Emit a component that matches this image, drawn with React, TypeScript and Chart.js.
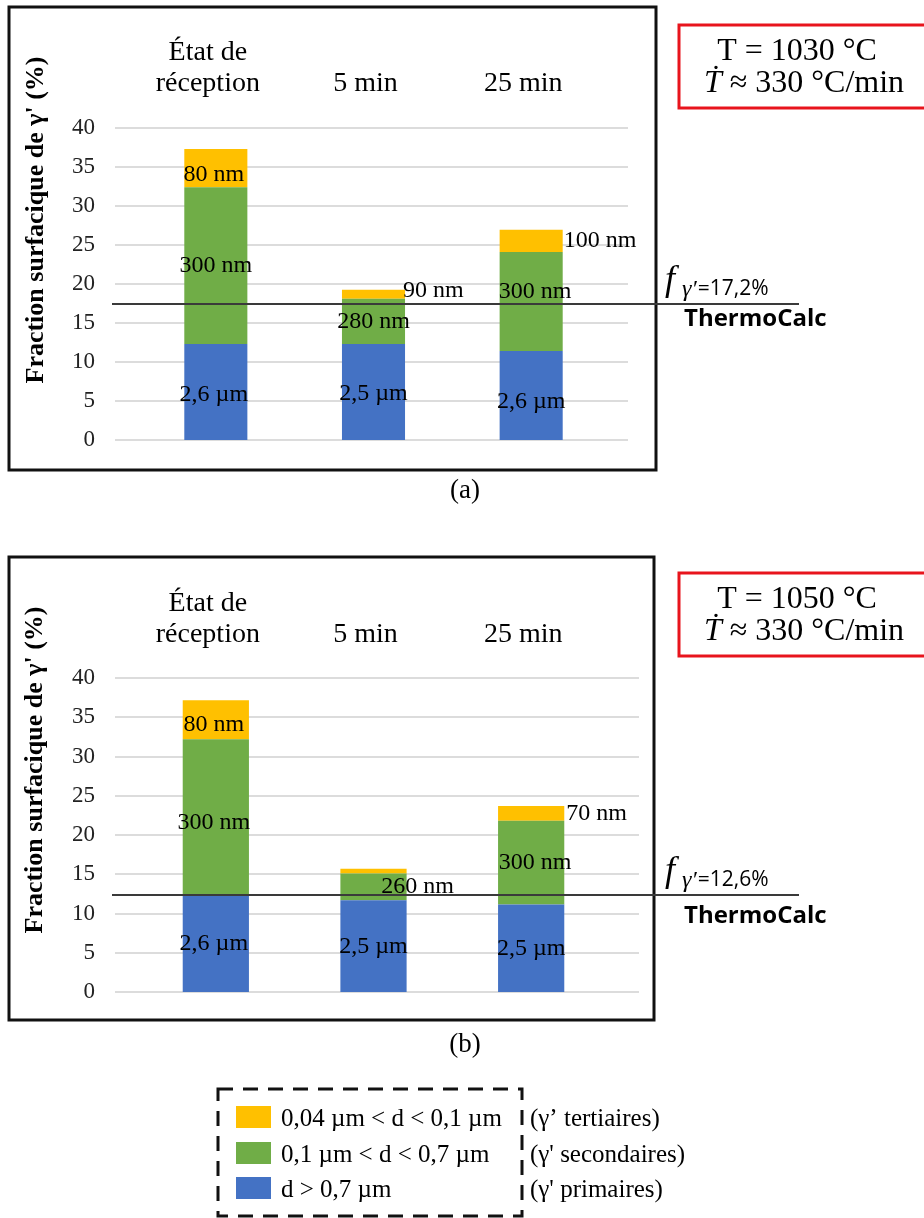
import React, { useEffect, useRef } from "react";
import { Chart, registerables } from "chart.js";

Chart.register(...registerables);

// ---------- data ----------
const categories: (string | string[])[] = [["État de", "réception"], "5 min", "25 min"];
const yMin = 0;
const yMax = 40;
const yStep = 5;

// panel (a) : T = 1030 °C
const primairesA = [12.3, 12.3, 11.4];
const secondairesA = [20.1, 5.8, 12.7];
const tertiairesA = [4.9, 1.15, 2.85];
const labelsPrimA = ["2,6 µm", "2,5 µm", "2,6 µm"];
const labelsSecA = ["300 nm", "280 nm", "300 nm"];
const labelsTerA = ["80 nm", "90 nm", "100 nm"];
const thermoCalcA = 17.5;
const thermoTextA = "=17,2%";
const tempA = "T = 1030 °C";

// panel (b) : T = 1050 °C
const primairesB = [12.4, 11.7, 11.15];
const secondairesB = [19.8, 3.4, 10.65];
const tertiairesB = [4.95, 0.6, 1.9];
const labelsPrimB = ["2,6 µm", "2,5 µm", "2,5 µm"];
const labelsSecB = ["300 nm", "260 nm", "300 nm"];
const labelsTerB = ["80 nm", "", "70 nm"];
const thermoCalcB = 12.4;
const thermoTextB = "=12,6%";
const tempB = "T = 1050 °C";

const rateText = " ≈ 330 °C/min";
const yTitle = "Fraction surfacique de γ' (%)";
const legendLabels = ["0,04 µm < d < 0,1 µm", "0,1 µm < d < 0,7 µm", "d > 0,7 µm"];
const legendNotes = ["(γ’ tertiaires)", "(γ' secondaires)", "(γ' primaires)"];

// ---------- styles ----------
const SERIF = "'Liberation Serif', 'Times New Roman', serif";
const SANS = "'Open Sans', 'Noto Sans', sans-serif";
const BLUE = "#4472C4";
const GREEN = "#70AD47";
const YELLOW = "#FFC000";

type LabelStyle = { mode: "in" | "right"; dx: number; dy: number };

interface PanelCfg {
  height: number;
  areaTop: number;
  padBottom: number;
  catPad: number;
  barPct: number;
  gridLeft: number;
  gridRight: number;
  box: [number, number, number, number];
  titleX: number;
  titleY: number;
  redTop: number;
  temp: string;
  thermo: number;
  thermoText: string;
  thermoDy: number;
  caption: string;
  captionY: number;
  legend: boolean;
  series: number[][];
  labels: string[][];
  labelStyles: LabelStyle[][];
}

const panelA: PanelCfg = {
  height: 510,
  areaTop: 128,
  padBottom: 70,
  catPad: 29,
  barPct: 0.4,
  gridLeft: 115,
  gridRight: 628,
  box: [9, 7, 647, 463],
  titleX: 36,
  titleY: 220,
  redTop: 25,
  temp: tempA,
  thermo: thermoCalcA,
  thermoText: thermoTextA,
  thermoDy: 22,
  caption: "(a)",
  captionY: 498,
  legend: false,
  series: [primairesA, secondairesA, tertiairesA],
  labels: [labelsPrimA, labelsSecA, labelsTerA],
  labelStyles: [
    [{ mode: "in", dx: -2, dy: 3 }, { mode: "in", dx: 0, dy: 2 }, { mode: "in", dx: 0, dy: 6 }],
    [{ mode: "in", dx: 0, dy: 0 }, { mode: "in", dx: 0, dy: 0 }, { mode: "in", dx: 4, dy: -10 }],
    [{ mode: "in", dx: -2, dy: 7 }, { mode: "right", dx: -2, dy: -4 }, { mode: "right", dx: 1, dy: 0 }],
  ],
};

const panelB: PanelCfg = {
  height: 708,
  areaTop: 168,
  padBottom: 226,
  catPad: 28,
  barPct: 0.42,
  gridLeft: 115,
  gridRight: 639,
  box: [9, 47, 645, 463],
  titleX: 35,
  titleY: 260,
  redTop: 63,
  temp: tempB,
  thermo: thermoCalcB,
  thermoText: thermoTextB,
  thermoDy: 28,
  caption: "(b)",
  captionY: 542,
  legend: true,
  series: [primairesB, secondairesB, tertiairesB],
  labels: [labelsPrimB, labelsSecB, labelsTerB],
  labelStyles: [
    [{ mode: "in", dx: -2, dy: 0 }, { mode: "in", dx: 0, dy: 1 }, { mode: "in", dx: 0, dy: 0 }],
    [{ mode: "in", dx: -2, dy: 6 }, { mode: "in", dx: 44, dy: 0 }, { mode: "in", dx: 4, dy: 0 }],
    [{ mode: "in", dx: -2, dy: 5 }, { mode: "right", dx: 2, dy: 0 }, { mode: "right", dx: 2, dy: 0 }],
  ],
};

function makeOverlay(cfg: PanelCfg) {
  return {
    id: "overlay",
    beforeDatasetsDraw(chart: any) {
      const ctx = chart.ctx as CanvasRenderingContext2D;
      const y = chart.scales.y;
      ctx.save();
      ctx.strokeStyle = "#dcdcdc";
      ctx.lineWidth = 2;
      y.ticks.forEach((t: any) => {
        const py = Math.round(y.getPixelForValue(t.value));
        ctx.beginPath();
        ctx.moveTo(cfg.gridLeft, py);
        ctx.lineTo(cfg.gridRight, py);
        ctx.stroke();
      });
      ctx.restore();
    },
    afterDraw(chart: any) {
      const ctx = chart.ctx as CanvasRenderingContext2D;
      const y = chart.scales.y;
      ctx.save();

      // outer panel box
      ctx.strokeStyle = "#111";
      ctx.lineWidth = 3;
      ctx.strokeRect(cfg.box[0], cfg.box[1], cfg.box[2], cfg.box[3]);

      // y title
      ctx.save();
      ctx.translate(cfg.titleX, cfg.titleY);
      ctx.rotate(-Math.PI / 2);
      ctx.font = `bold 26px ${SERIF}`;
      ctx.fillStyle = "#000";
      ctx.textAlign = "center";
      ctx.textBaseline = "middle";
      ctx.fillText(yTitle, 0, 0);
      ctx.restore();

      // ThermoCalc reference line
      const ly = Math.round(y.getPixelForValue(cfg.thermo));
      ctx.strokeStyle = "#3a3a3a";
      ctx.lineWidth = 2;
      ctx.beginPath();
      ctx.moveTo(112, ly);
      ctx.lineTo(799, ly);
      ctx.stroke();

      // data labels
      ctx.fillStyle = "#000";
      ctx.font = `24px ${SERIF}`;
      ctx.textBaseline = "middle";
      cfg.labels.forEach((arr, d) => {
        const meta = chart.getDatasetMeta(d);
        arr.forEach((txt, i) => {
          if (!txt) return;
          const el = meta.data[i];
          const st = cfg.labelStyles[d][i];
          const cy = (el.y + el.base) / 2 + st.dy;
          if (st.mode === "right") {
            ctx.textAlign = "left";
            ctx.fillText(txt, el.x + el.width / 2 + st.dx, cy);
          } else {
            ctx.textAlign = "center";
            ctx.fillText(txt, el.x + st.dx, cy);
          }
        });
      });

      // f label
      ctx.textBaseline = "alphabetic";
      ctx.textAlign = "left";
      ctx.font = `italic 36px ${SERIF}`;
      ctx.fillText("f", 665, ly - 14);
      ctx.font = `italic 24px ${SERIF}`;
      ctx.fillText("γ′", 682, ly - 8);
      const wg = ctx.measureText("γ′").width;
      ctx.font = `21px ${SANS}`;
      ctx.fillText(cfg.thermoText, 682 + wg + 1, ly - 9);
      ctx.font = `bold 24px ${SANS}`;
      ctx.fillText("ThermoCalc", 684, ly + cfg.thermoDy);

      // red info box
      ctx.strokeStyle = "#e8141c";
      ctx.lineWidth = 3;
      ctx.strokeRect(679, cfg.redTop, 270, 83);
      ctx.fillStyle = "#000";
      ctx.font = `32px ${SERIF}`;
      ctx.textAlign = "center";
      ctx.fillText(cfg.temp, 797, cfg.redTop + 35);
      ctx.textAlign = "left";
      ctx.font = `italic 32px ${SERIF}`;
      const wT = ctx.measureText("Ṫ").width;
      ctx.font = `32px ${SERIF}`;
      const wR = ctx.measureText(rateText).width;
      const sx = 804 - (wT + wR) / 2;
      ctx.font = `italic 32px ${SERIF}`;
      ctx.fillText("Ṫ", sx, cfg.redTop + 67);
      ctx.font = `32px ${SERIF}`;
      ctx.fillText(rateText, sx + wT, cfg.redTop + 67);

      // caption
      ctx.font = `27px ${SERIF}`;
      ctx.textAlign = "center";
      ctx.fillText(cfg.caption, 465, cfg.captionY);

      // legend
      if (cfg.legend) {
        const top = 579;
        ctx.strokeStyle = "#111";
        ctx.lineWidth = 3;
        ctx.setLineDash([15, 10]);
        ctx.strokeRect(218, top, 304, 127);
        ctx.setLineDash([]);
        const colors = [YELLOW, GREEN, BLUE];
        const rows = [0, 36, 71];
        ctx.font = `25px ${SERIF}`;
        ctx.textAlign = "left";
        rows.forEach((dy, k) => {
          ctx.fillStyle = colors[k];
          ctx.fillRect(236, top + 17 + dy, 35, 22);
          ctx.fillStyle = "#000";
          ctx.fillText(legendLabels[k], 281, top + 37 + dy);
          ctx.fillText(legendNotes[k], 530, top + 37 + dy);
        });
      }
      ctx.restore();
    },
  };
}

function Panel({ cfg }: { cfg: PanelCfg }) {
  const ref = useRef<HTMLCanvasElement | null>(null);
  useEffect(() => {
    if (!ref.current) return;
    const chart = new Chart(ref.current, {
      type: "bar",
      data: {
        labels: categories,
        datasets: [
          { label: "d > 0,7 µm", data: cfg.series[0], backgroundColor: BLUE },
          { label: "0,1 µm < d < 0,7 µm", data: cfg.series[1], backgroundColor: GREEN },
          { label: "0,04 µm < d < 0,1 µm", data: cfg.series[2], backgroundColor: YELLOW },
        ].map((d) => ({ ...d, barPercentage: cfg.barPct, categoryPercentage: 1, borderWidth: 0 })),
      },
      options: {
        responsive: false,
        animation: false,
        devicePixelRatio: 1,
        layout: { padding: { left: 0, right: 314, top: 0, bottom: cfg.padBottom } },
        plugins: { legend: { display: false }, tooltip: { enabled: false } },
        scales: {
          x: {
            stacked: true,
            position: "top",
            grid: { display: false, drawTicks: false },
            border: { display: false },
            ticks: {
              font: { family: SERIF, size: 28, lineHeight: 1.1 },
              color: "#000",
              padding: cfg.catPad,
              labelOffset: -8,
              maxRotation: 0,
              autoSkip: false,
            },
            afterFit: (s: any) => {
              s.height = cfg.areaTop;
            },
          },
          y: {
            stacked: true,
            min: yMin,
            max: yMax,
            ticks: { stepSize: yStep, font: { family: SERIF, size: 23 }, color: "#222", padding: 42 },
            grid: { display: false, drawTicks: false },
            border: { display: false },
            afterFit: (s: any) => {
              s.width = 137;
            },
          },
        },
      } as any,
      plugins: [makeOverlay(cfg)],
    });
    return () => chart.destroy();
  }, [cfg]);
  return <canvas ref={ref} width={924} height={cfg.height} style={{ display: "block" }} />;
}

export default function App() {
  useEffect(() => {
    document.body.style.margin = "0";
  }, []);
  return (
    <div style={{ width: 924, background: "#fff" }}>
      <Panel cfg={panelA} />
      <Panel cfg={panelB} />
    </div>
  );
}
